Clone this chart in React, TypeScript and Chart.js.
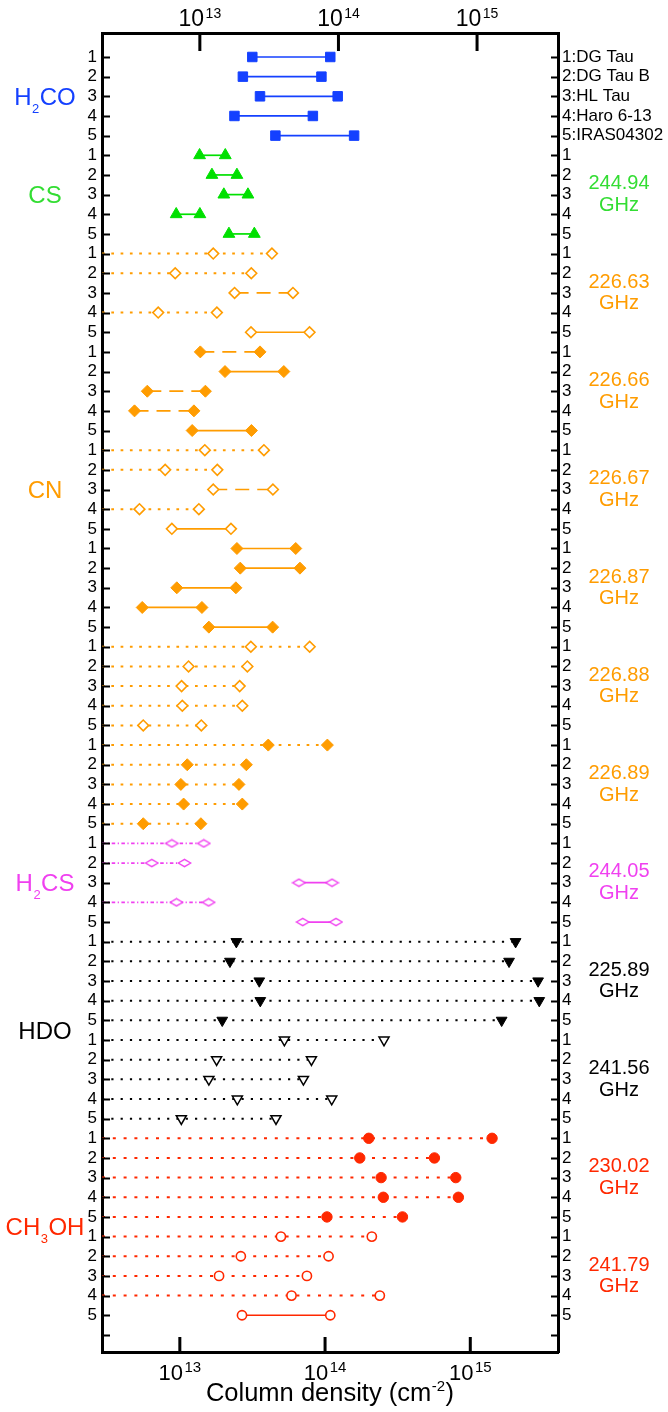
import React, { useEffect, useRef } from 'react';
import { Chart, registerables } from 'chart.js';

Chart.register(...registerables);

const FONT = '"Liberation Sans", Arial, Helvetica, sans-serif';

// ---------------- data ----------------
const SOURCES = ['1:DG Tau', '2:DG Tau B', '3:HL Tau', '4:Haro 6-13', '5:IRAS04302'];
const SOURCE_NUMBERS = ['1', '2', '3', '4', '5'];

// log10 of column density (cm^-2), lower / upper end of each range, sources 1..5
const H2CO_LO = [13.499, 13.434, 13.552, 13.376, 13.658];
const H2CO_HI = [14.036, 13.975, 14.087, 13.916, 14.2];
const CS_LO = [13.136, 13.221, 13.303, 12.975, 13.338];
const CS_HI = [13.313, 13.393, 13.469, 13.138, 13.513];
const CN22663_LO = [13.23, 12.968, 13.377, 12.851, 13.49];
const CN22663_HI = [13.634, 13.492, 13.779, 13.255, 13.893];
const CN22666_LO = [13.141, 13.311, 12.776, 12.688, 13.085];
const CN22666_HI = [13.552, 13.716, 13.176, 13.097, 13.493];
const CN22667_LO = [13.172, 12.899, 13.23, 12.722, 12.945];
const CN22667_HI = [13.579, 13.258, 13.641, 13.131, 13.352];
const CN22687_LO = [13.393, 13.416, 12.979, 12.741, 13.2];
const CN22687_HI = [13.798, 13.827, 13.386, 13.152, 13.639];
const CN22688_LO = [13.489, 13.06, 13.012, 13.017, 12.748];
const CN22688_HI = [13.894, 13.465, 13.412, 13.43, 13.148];
const CN22689_LO = [13.609, 13.051, 13.007, 13.026, 12.748];
const CN22689_HI = [14.016, 13.458, 13.407, 13.43, 13.145];
const H2CS_LO = [12.945, 12.807, 13.82, 12.977, 13.846];
const H2CS_HI = [13.165, 13.032, 14.048, 13.198, 14.075];
const HDO22589_LO = [13.389, 13.345, 13.547, 13.554, 13.292];
const HDO22589_HI = [15.312, 15.267, 15.467, 15.475, 15.216];
const HDO24156_LO = [13.72, 13.253, 13.2, 13.396, 13.01];
const HDO24156_HI = [14.406, 13.906, 13.851, 14.046, 13.662];
const CH3OH23002_LO = [14.301, 14.239, 14.386, 14.401, 14.013];
const CH3OH23002_HI = [15.15, 14.753, 14.9, 14.918, 14.533];
const CH3OH24179_LO = [13.696, 13.42, 13.27, 13.769, 13.428];
const CH3OH24179_HI = [14.322, 14.024, 13.875, 14.377, 14.036];

// line style per source: s solid, d dashed, o dotted from axis, a dash-dot from axis
const H2CO_STYLE = ['s', 's', 's', 's', 's'];
const CS_STYLE = ['s', 's', 's', 's', 's'];
const CN22663_STYLE = ['o', 'o', 'd', 'o', 's'];
const CN22666_STYLE = ['d', 's', 'd', 'd', 's'];
const CN22667_STYLE = ['o', 'o', 'd', 'o', 's'];
const CN22687_STYLE = ['s', 's', 's', 's', 's'];
const CN22688_STYLE = ['o', 'o', 'o', 'o', 'o'];
const CN22689_STYLE = ['o', 'o', 'o', 'o', 'o'];
const H2CS_STYLE = ['a', 'a', 's', 'a', 's'];
const HDO22589_STYLE = ['o', 'o', 'o', 'o', 'o'];
const HDO24156_STYLE = ['o', 'o', 'o', 'o', 'o'];
const CH3OH23002_STYLE = ['o', 'o', 'o', 'o', 'o'];
const CH3OH24179_STYLE = ['o', 'o', 'o', 'o', 's'];

const FREQUENCIES = ['', '244.94', '226.63', '226.66', '226.67', '226.87', '226.88', '226.89', '244.05', '225.89', '241.56', '230.02', '241.79'];

const MOLECULES = [
  [['H', 0], ['2', 1], ['CO', 0]],
  [['CS', 0]],
  [['CN', 0]],
  [['H', 0], ['2', 1], ['CS', 0]],
  [['HDO', 0]],
  [['CH', 0], ['3', 1], ['OH', 0]],
];
const MOLECULE_ROWS = [3, 8, 23, 43, 50.5, 60.5];

const X_TICKS = [1e13, 1e14, 1e15];
const X_TICK_EXP = ['13', '14', '15'];

// axis ranges (log10)
const X_MIN = Math.pow(10, 12.464);
const X_MAX = Math.pow(10, 15.604);
const TOP_MIN = Math.pow(10, 12.294);
const TOP_MAX = Math.pow(10, 15.584);
const Y_MIN = -0.22;
const Y_MAX = 66.87;
const ROW_TICKS = Array.from({ length: 66 }, (_, i) => i + 1);

// ---------------- styles ----------------
const BLUE = '#1440ff';
const GREEN = '#00e000';
const GREEN_TXT = '#33dd33';
const ORANGE = '#ff9c00';
const MAGENTA = '#f040f0';
const BLACK = '#000000';
const RED = '#ff2800';

function flatDiamond(color: string) {
  const c = document.createElement('canvas');
  c.width = 15;
  c.height = 10;
  const g = c.getContext('2d')!;
  g.beginPath();
  g.moveTo(1.2, 5);
  g.lineTo(7.5, 1.3);
  g.lineTo(13.8, 5);
  g.lineTo(7.5, 8.7);
  g.closePath();
  g.fillStyle = '#ffffff';
  g.fill();
  g.strokeStyle = color;
  g.lineWidth = 1.4;
  g.stroke();
  return c;
}

type Marker = { style: any; r: number; bg: string; bc: string; bw: number; rot: number };

function buildGroups() {
  const sq: Marker = { style: 'rect', r: 6.7, bg: BLUE, bc: BLUE, bw: 1, rot: 0 };
  const tri: Marker = { style: 'triangle', r: 6.8, bg: GREEN, bc: GREEN, bw: 1, rot: 0 };
  const dOpen: Marker = { style: 'rectRot', r: 5.4, bg: '#ffffff', bc: ORANGE, bw: 1.6, rot: 0 };
  const dFill: Marker = { style: 'rectRot', r: 6.0, bg: ORANGE, bc: ORANGE, bw: 1, rot: 0 };
  const flat: Marker = { style: flatDiamond(MAGENTA), r: 5, bg: '#ffffff', bc: MAGENTA, bw: 1.4, rot: 0 };
  const tDownF: Marker = { style: 'triangle', r: 6.2, bg: BLACK, bc: BLACK, bw: 1, rot: 180 };
  const tDownO: Marker = { style: 'triangle', r: 5.8, bg: '#ffffff', bc: BLACK, bw: 1.5, rot: 180 };
  const cFill: Marker = { style: 'circle', r: 5.2, bg: RED, bc: RED, bw: 1, rot: 0 };
  const cOpen: Marker = { style: 'circle', r: 4.6, bg: '#ffffff', bc: RED, bw: 1.6, rot: 0 };
  return [
    { lo: H2CO_LO, hi: H2CO_HI, st: H2CO_STYLE, color: BLUE, m: sq, dot: [2.5, 6.5] },
    { lo: CS_LO, hi: CS_HI, st: CS_STYLE, color: GREEN, m: tri, dot: [2.5, 6.5] },
    { lo: CN22663_LO, hi: CN22663_HI, st: CN22663_STYLE, color: ORANGE, m: dOpen, dot: [2.7, 6.6] },
    { lo: CN22666_LO, hi: CN22666_HI, st: CN22666_STYLE, color: ORANGE, m: dFill, dot: [2.7, 6.6] },
    { lo: CN22667_LO, hi: CN22667_HI, st: CN22667_STYLE, color: ORANGE, m: dOpen, dot: [2.7, 6.6] },
    { lo: CN22687_LO, hi: CN22687_HI, st: CN22687_STYLE, color: ORANGE, m: dFill, dot: [2.7, 6.6] },
    { lo: CN22688_LO, hi: CN22688_HI, st: CN22688_STYLE, color: ORANGE, m: dOpen, dot: [2.7, 6.6] },
    { lo: CN22689_LO, hi: CN22689_HI, st: CN22689_STYLE, color: ORANGE, m: dFill, dot: [2.7, 6.6] },
    { lo: H2CS_LO, hi: H2CS_HI, st: H2CS_STYLE, color: MAGENTA, m: flat, dot: [2.5, 6.5] },
    { lo: HDO22589_LO, hi: HDO22589_HI, st: HDO22589_STYLE, color: BLACK, m: tDownF, dot: [2.2, 7.1] },
    { lo: HDO24156_LO, hi: HDO24156_HI, st: HDO24156_STYLE, color: BLACK, m: tDownO, dot: [2.2, 7.1] },
    { lo: CH3OH23002_LO, hi: CH3OH23002_HI, st: CH3OH23002_STYLE, color: RED, m: cFill, dot: [3, 7.8] },
    { lo: CH3OH24179_LO, hi: CH3OH24179_HI, st: CH3OH24179_STYLE, color: RED, m: cOpen, dot: [3, 7.8] },
  ];
}

const GROUP_TEXT_COLORS = [BLUE, GREEN_TXT, ORANGE, ORANGE, ORANGE, ORANGE, ORANGE, ORANGE, MAGENTA, BLACK, BLACK, RED, RED];
const MOLECULE_COLORS = [BLUE, GREEN_TXT, ORANGE, MAGENTA, BLACK, RED];

function buildDatasets() {
  const groups = buildGroups();
  const datasets: any[] = [];
  groups.forEach((g, gi) => {
    for (let k = 0; k < 5; k++) {
      const row = gi * 5 + k + 1;
      const s = g.st[k];
      const fromAxis = s === 'o' || s === 'a';
      const pts: any[] = [];
      if (fromAxis) pts.push({ x: X_MIN, y: row });
      pts.push({ x: Math.pow(10, g.lo[k]), y: row });
      pts.push({ x: Math.pow(10, g.hi[k]), y: row });
      let dash: number[] = [];
      if (s === 'o') dash = g.dot;
      if (s === 'd') dash = [14, 8];
      if (s === 'a') dash = [3.5, 2.5, 1.2, 2.5];
      const m = g.m;
      datasets.push({
        data: pts,
        showLine: true,
        borderColor: g.color,
        borderWidth: s === 'o' ? 2 : 1.7,
        borderDash: dash,
        pointStyle: m.style,
        pointRadius: fromAxis ? [0, m.r, m.r] : m.r,
        pointBackgroundColor: m.bg,
        pointBorderColor: m.bc,
        pointBorderWidth: m.bw,
        pointRotation: m.rot,
        xAxisID: 'x',
        yAxisID: 'y',
      });
    }
  });
  return datasets;
}

function drawPower(ctx: CanvasRenderingContext2D, cx: number, baseY: number, exp: string, big: number, small: number, rise: number) {
  ctx.font = `${big}px ${FONT}`;
  const w1 = ctx.measureText('10').width;
  ctx.font = `${small}px ${FONT}`;
  const w2 = ctx.measureText(exp).width;
  const start = cx - (w1 + w2 + 1.5) / 2;
  ctx.textAlign = 'left';
  ctx.textBaseline = 'alphabetic';
  ctx.font = `${big}px ${FONT}`;
  ctx.fillText('10', start, baseY);
  ctx.font = `${small}px ${FONT}`;
  ctx.fillText(exp, start + w1 + 1.5, baseY - rise);
}

const annotationPlugin = {
  id: 'annotations',
  afterDraw(chart: any) {
    const ctx: CanvasRenderingContext2D = chart.ctx;
    const area = chart.chartArea;
    const xs = chart.scales.x;
    const xt = chart.scales.x2;
    const ys = chart.scales.y;
    ctx.save();
    ctx.strokeStyle = '#000';
    // row ticks (inward)
    ctx.lineWidth = 2;
    ROW_TICKS.forEach((r) => {
      const py = Math.round(ys.getPixelForValue(r)) + 0.5;
      ctx.beginPath();
      ctx.moveTo(area.left, py);
      ctx.lineTo(area.left + 8, py);
      ctx.moveTo(area.right - 7, py);
      ctx.lineTo(area.right, py);
      ctx.stroke();
    });
    // decade ticks (inward)
    ctx.lineWidth = 3;
    X_TICKS.forEach((v) => {
      const pb = xs.getPixelForValue(v);
      const pt = xt.getPixelForValue(v);
      ctx.beginPath();
      ctx.moveTo(pb, area.bottom);
      ctx.lineTo(pb, area.bottom - 15);
      ctx.moveTo(pt, area.top);
      ctx.lineTo(pt, area.top + 18);
      ctx.stroke();
    });
    // decade labels
    ctx.fillStyle = '#000';
    X_TICKS.forEach((v, i) => {
      drawPower(ctx, xs.getPixelForValue(v), area.bottom + 28, X_TICK_EXP[i], 22, 15, 8);
      drawPower(ctx, xt.getPixelForValue(v), 26, X_TICK_EXP[i], 23, 14, 8);
    });
    // axis title
    const TS = 25.5;
    const t1 = 'Column density (cm';
    ctx.font = `${TS}px ${FONT}`;
    const w1 = ctx.measureText(t1).width;
    ctx.font = `15px ${FONT}`;
    const w2 = ctx.measureText('-2').width;
    ctx.font = `${TS}px ${FONT}`;
    const w3 = ctx.measureText(')').width;
    const cx = (area.left + area.right) / 2;
    const sx = cx - (w1 + w2 + w3 + 1) / 2;
    ctx.textAlign = 'left';
    ctx.textBaseline = 'alphabetic';
    ctx.fillText(t1, sx, 1401);
    ctx.font = `15px ${FONT}`;
    ctx.fillText('-2', sx + w1 + 0.5, 1391);
    ctx.font = `${TS}px ${FONT}`;
    ctx.fillText(')', sx + w1 + w2 + 1, 1401);

    // molecule names on the left
    MOLECULES.forEach((parts, i) => {
      const py = ys.getPixelForValue(MOLECULE_ROWS[i]);
      let total = 0;
      parts.forEach(([t, sub]) => {
        ctx.font = sub ? `13px ${FONT}` : `24px ${FONT}`;
        total += ctx.measureText(t as string).width + (sub ? 1 : 0);
      });
      let px = 45 - total / 2;
      ctx.fillStyle = MOLECULE_COLORS[i];
      parts.forEach(([t, sub]) => {
        ctx.font = sub ? `13px ${FONT}` : `24px ${FONT}`;
        ctx.fillText(t as string, px + (sub ? 0.5 : 0), py + 8.5 + (sub ? 8 : 0));
        px += ctx.measureText(t as string).width + (sub ? 1 : 0);
      });
    });

    // transition frequencies on the right
    ctx.textAlign = 'center';
    ctx.textBaseline = 'middle';
    ctx.font = `20px ${FONT}`;
    FREQUENCIES.forEach((f, gi) => {
      if (!f) return;
      ctx.fillStyle = GROUP_TEXT_COLORS[gi];
      ctx.fillText(f, 619, ys.getPixelForValue(gi * 5 + 2.45));
      ctx.fillText('GHz', 619, ys.getPixelForValue(gi * 5 + 3.55));
    });
    ctx.restore();
  },
};

function rowLabel(v: number, right: boolean) {
  if (v < 1 || v > 65) return '';
  const k = (v - 1) % 5;
  if (right && v <= 5) return SOURCES[k];
  return SOURCE_NUMBERS[k];
}

export default function App() {
  const ref = useRef<HTMLCanvasElement | null>(null);
  useEffect(() => {
    if (!ref.current) return;
    const setRows = (s: any) => {
      s.ticks = ROW_TICKS.map((v) => ({ value: v }));
    };
    const border = { display: true, color: '#000', width: 3 };
    const chart = new Chart(ref.current, {
      type: 'scatter',
      data: { datasets: buildDatasets() },
      plugins: [annotationPlugin],
      options: {
        responsive: false,
        animation: false,
        devicePixelRatio: 1,
        layout: { padding: 0 },
        plugins: { legend: { display: false }, tooltip: { enabled: false } },
        scales: {
          x: {
            type: 'logarithmic',
            position: 'bottom',
            min: X_MIN,
            max: X_MAX,
            grid: { display: false, drawTicks: false },
            ticks: { display: false },
            border,
            afterFit: (s: any) => {
              s.height = 60;
            },
          },
          x2: {
            type: 'logarithmic',
            position: 'top',
            min: TOP_MIN,
            max: TOP_MAX,
            grid: { display: false, drawTicks: false },
            ticks: { display: false },
            border,
            afterFit: (s: any) => {
              s.height = 33;
            },
          },
          y: {
            type: 'linear',
            position: 'left',
            reverse: true,
            min: Y_MIN,
            max: Y_MAX,
            afterBuildTicks: setRows,
            grid: { display: false, drawTicks: false },
            ticks: {
              autoSkip: false,
              padding: 5,
              color: '#000',
              font: { family: FONT, size: 17 },
              callback: (v: any) => rowLabel(Number(v), false),
            },
            border,
            afterFit: (s: any) => {
              s.width = 102;
            },
          },
          y2: {
            type: 'linear',
            position: 'right',
            reverse: true,
            min: Y_MIN,
            max: Y_MAX,
            afterBuildTicks: setRows,
            grid: { display: false, drawTicks: false },
            ticks: {
              autoSkip: false,
              padding: 4,
              color: '#000',
              font: { family: FONT, size: 17 },
              callback: (v: any) => rowLabel(Number(v), true),
            },
            border,
            afterFit: (s: any) => {
              s.width = 110;
            },
          },
        },
      } as any,
    });
    return () => chart.destroy();
  }, []);
  return (
    <div style={{ position: 'absolute', left: 0, top: 0, width: 668, height: 1412, background: '#fff' }}>
      <canvas ref={ref} width={668} height={1412} style={{ display: 'block' }} />
    </div>
  );
}
